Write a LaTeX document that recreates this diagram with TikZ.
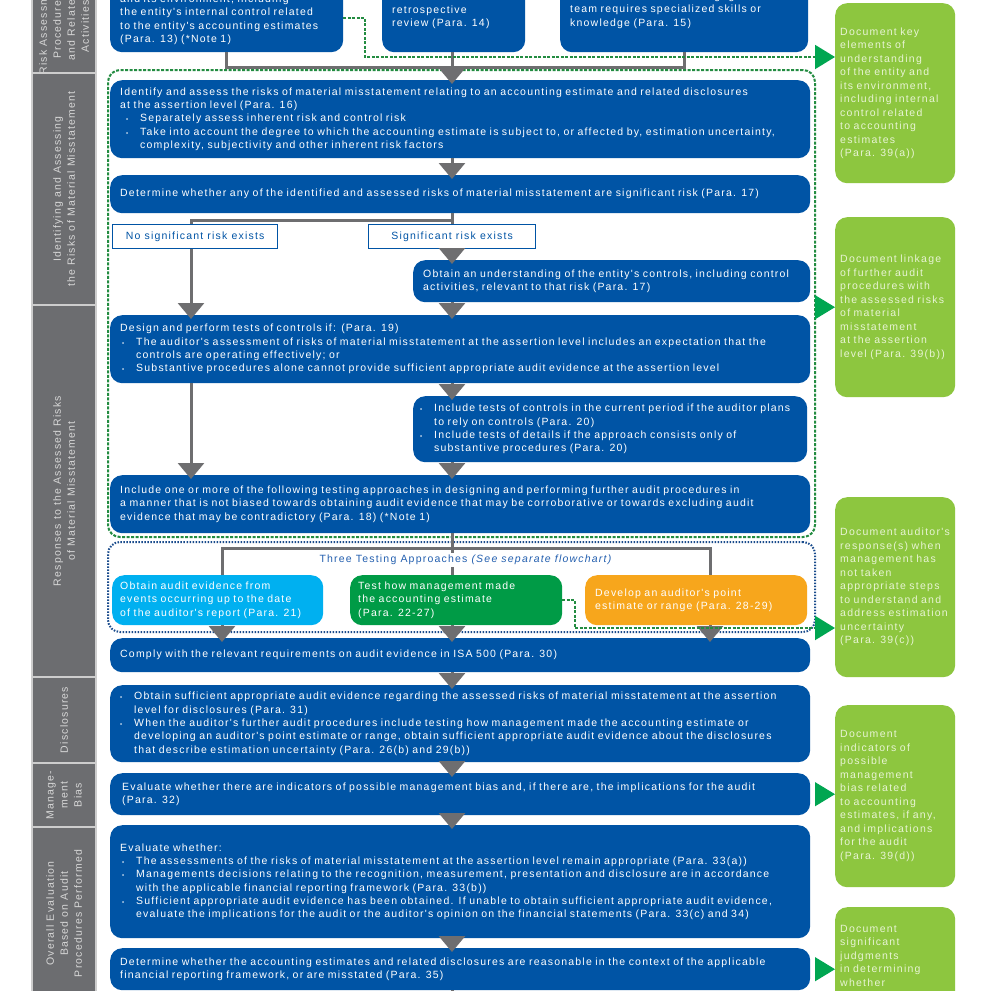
\documentclass[tikz,border=0pt]{standalone}
\usepackage{fontspec}
\setmainfont{Liberation Sans}
\newfontfamily\boxfamily{Liberation Sans}[LetterSpace=11.5]
\newfontfamily\docfamily{Liberation Sans}[LetterSpace=12]
\usetikzlibrary{arrows.meta,positioning,fit}

\newcommand{\boxfont}{\boxfamily\fontsize{10.5}{13.3}\selectfont}
\newcommand{\barfont}{\boxfamily\fontsize{10.5}{14}\selectfont}
\newcommand{\docfont}{\docfamily\fontsize{10.5}{13.5}\selectfont}
\newcommand{\smallbul}{{\fontsize{6}{6}\selectfont\textbullet}}
\newcommand{\bitem}[1][0pt]{\hspace*{#1}\makebox[14pt][l]{\smallbul}}
\newcommand{\bcont}[1][0pt]{\hspace*{#1}\hspace*{14pt}}

\begin{document}
\begin{tikzpicture}[x=1pt,y=-1pt,
  bluebox/.style={rectangle,rounded corners=12pt,fill=boxblue,text=white,align=left,anchor=north west,inner xsep=10pt,inner ysep=2pt,font=\boxfont},
  tagbox/.style={rectangle,draw=boxblue,line width=1.2pt,fill=white,text=boxblue,anchor=north west,minimum height=24pt,inner sep=0pt,font=\boxfont},
  approach/.style={rectangle,rounded corners=12pt,text=white,align=left,anchor=north west,inner xsep=8pt,inner ysep=2pt,minimum height=50pt,font=\boxfont},
  docbox/.style={rectangle,rounded corners=12pt,fill=limebox,text=limetext,align=left,anchor=north west,inner xsep=5pt,inner ysep=2pt,text width=110pt,font=\docfont},
  sidebar/.style={rectangle,fill=bargray,draw=bargap,line width=1.5pt,text=bartext,align=center,rotate=90,minimum height=64pt,inner sep=0pt,font=\barfont},
  groupframe/.style={rectangle,rounded corners=12pt,line width=2pt,inner sep=0pt},
  flow/.style={draw=linegray,line width=3pt},
  flowarrow/.style={flow,-{Triangle[width=26pt,length=16pt]},shorten >=-4pt},
  docline/.style={draw=dashgreen,line width=2pt,dash pattern=on 3pt off 1.5pt},
  doctip/.style={-{Triangle[width=24pt,length=20pt,color=arrowgreen]}}
]
% Define colours
\definecolor{boxblue}{RGB}{0,84,165}
\definecolor{bargray}{RGB}{108,109,112}
\definecolor{bargap}{RGB}{205,205,205}
\definecolor{bartext}{RGB}{215,215,215}
\definecolor{linegray}{RGB}{110,110,112}
\definecolor{limebox}{RGB}{141,198,63}
\definecolor{limetext}{RGB}{232,244,212}
\definecolor{arrowgreen}{RGB}{0,166,81}
\definecolor{dashgreen}{RGB}{35,140,65}
\definecolor{dotblue}{RGB}{25,75,140}
\definecolor{apcyan}{RGB}{0,176,240}
\definecolor{apgreen}{RGB}{0,155,70}
\definecolor{aporange}{RGB}{247,166,28}
\definecolor{labelblue}{RGB}{35,95,175}

\useasboundingbox (0,0) rectangle (991,991);
\fill[white] (0,0) rectangle (991,991);
\clip (0,0) rectangle (991,991);

% Column positions of the connectors
\coordinate (colA) at (222,0);
\coordinate (colL) at (191,0);
\coordinate (colB) at (452,0);
\coordinate (colC) at (710,0);
\coordinate (topbus) at (0,67);
\coordinate (decbus) at (452,220);
\coordinate (apbus) at (452,548);
\coordinate (keybus) at (365,57);
\coordinate (resbus) at (575,628);

% Side bars
\node[sidebar,minimum width=93pt] (barrisk) at (64,26.5) {Risk Assessment\\Procedures\\and Related\\Activities};
\node[sidebar,minimum width=232pt] (barident) at (64,189) {Identifying and Assessing\\the Risks of Material Misstatement};
\node[sidebar,minimum width=372pt] (barresp) at (64,491) {Responses to the Assessed Risks\\of Material Misstatement};
\node[sidebar,minimum width=86pt] (bardisc) at (64,720) {Disclosures};
\node[sidebar,minimum width=64pt] (barbias) at (64,795) {Manage-\\ment\\Bias};
\node[sidebar,minimum width=173pt] (barover) at (64,913.5) {Overall Evaluation\\Based on Audit\\Procedures Performed};

% Dashed group frames
\node[groupframe,draw=dashgreen,dash pattern=on 3pt off 1.5pt,fit={(108,70) (815,537)}] (riskframe) {};
\node[groupframe,draw=dotblue,dash pattern=on 1.5pt off 1.5pt,fit={(108,542) (815,632)}] (apframe) {};

% Risk assessment boxes
\node[bluebox,text width=213pt,minimum height=65pt] (riskenv) at (110,-13) {and its environment, including\\the entity's internal control related\\to the entity's accounting estimates\\(Para. 13) (*Note 1)};
\node[bluebox,text width=123pt,minimum height=70pt] (riskretro) at (382,-18) {retrospective\\review (Para. 14)};
\node[bluebox,text width=228pt,minimum height=84pt] (riskskill) at (560,-32) {Determine whether the engagement\\team requires specialized skills or\\knowledge (Para. 15)};

% Identifying and assessing
\node[bluebox,text width=680pt,minimum height=78pt] (ident) at (110,80) {Identify and assess the risks of material misstatement relating to an accounting estimate and related disclosures\\at the assertion level (Para. 16)\\\bitem[6pt]Separately assess inherent risk and control risk\\\bitem[6pt]Take into account the degree to which the accounting estimate is subject to, or affected by,  estimation uncertainty,\\\bcont[6pt]complexity, subjectivity and other inherent risk factors};
\node[bluebox,text width=680pt,minimum height=38pt] (determ) at (110,175) {Determine whether any of the identified and assessed risks of material misstatement are significant risk (Para. 17)};
\node[tagbox,minimum width=165pt] (nosig) at (112,224) {No significant risk exists};
\node[tagbox,minimum width=167pt] (sig) at (368,224) {Significant risk exists};
\node[bluebox,text width=377pt,minimum height=42pt] (obtain) at (413,260) {Obtain an understanding of the entity's controls, including control\\activities, relevant to that risk (Para. 17)};

% Responses
\node[bluebox,text width=680pt,minimum height=68pt] (design) at (110,315) {Design and perform tests of controls if: (Para. 19)\\\bitem[2pt]The auditor's assessment of risks of material misstatement at the assertion level includes an expectation that the\\\bcont[2pt]controls are operating effectively; or\\\bitem[2pt]Substantive procedures alone cannot provide sufficient appropriate audit evidence at the assertion level};
\node[bluebox,text width=380pt,minimum height=66pt,inner xsep=7pt] (inctests) at (413,396) {\bitem Include tests of controls in the current period if the auditor plans\\\bcont to rely on controls (Para. 20)\\\bitem Include tests of details if the approach consists only of\\\bcont substantive procedures (Para. 20)};
\node[bluebox,text width=680pt,minimum height=58pt] (incone) at (110,475) {Include one or more of the following testing approaches in designing and performing further audit procedures in\\a manner that is not biased towards obtaining audit evidence that may be corroborative or towards excluding audit\\evidence that may be contradictory (Para. 18) (*Note 1)};

% Three testing approaches
\node[approach,fill=apcyan,text width=195pt] (apcyanbox) at (112,575) {Obtain audit evidence from\\events occurring up to the date\\of the auditor's report (Para. 21)};
\node[approach,fill=apgreen,text width=196pt] (apgreenbox) at (350,575) {Test how management made\\the accounting estimate\\(Para. 22-27)};
\node[approach,fill=aporange,text width=202pt,inner xsep=10pt] (aporangebox) at (585,575) {Develop an auditor's point\\estimate or range (Para. 28-29)};
\node[bluebox,text width=680pt,minimum height=34pt] (comply) at (110,638) {Comply with the relevant requirements on audit evidence in ISA 500 (Para. 30)};

% Disclosures, bias and overall evaluation
\node[bluebox,text width=680pt,minimum height=77pt] (discl) at (110,685) {\bitem Obtain sufficient appropriate audit evidence regarding the assessed risks of material misstatement at the assertion\\\bcont level for disclosures (Para. 31)\\\bitem When the auditor's further audit procedures include testing how management made the accounting estimate or\\\bcont developing an auditor's point estimate or range, obtain sufficient appropriate audit evidence about the disclosures\\\bcont that describe estimation uncertainty (Para. 26(b) and 29(b))};
\node[bluebox,text width=676pt,minimum height=42pt,inner xsep=12pt] (bias) at (110,773) {Evaluate whether there are indicators of possible management bias and, if there are, the implications for the audit\\(Para. 32)};
\node[bluebox,text width=680pt,minimum height=113pt] (evaluate) at (110,825) {Evaluate whether:\\\bitem[2pt]The assessments of the risks of material misstatement at the assertion level remain appropriate (Para. 33(a))\\\bitem[2pt]Managements decisions relating to the recognition, measurement, presentation and disclosure are in accordance\\\bcont[2pt]with the applicable financial reporting framework (Para. 33(b))\\\bitem[2pt]Sufficient appropriate audit evidence has been obtained. If unable to obtain sufficient appropriate audit evidence,\\\bcont[2pt]evaluate the implications for the audit or the auditor's opinion on the financial statements (Para. 33(c) and 34)};
\node[bluebox,text width=680pt,minimum height=42pt] (reason) at (110,948) {Determine whether the accounting estimates and related disclosures are reasonable in the context of the applicable\\financial reporting framework, or are misstated (Para. 35)};

% Documentation boxes
\node[docbox,minimum height=180pt] (dockey) at (835,3) {Document key\\elements of\\understanding\\of the entity and\\its environment,\\including internal\\control related\\to accounting\\estimates\\(Para. 39(a))};
\node[docbox,minimum height=180pt] (doclink) at (835,217) {Document linkage\\of further audit\\procedures with\\the assessed risks\\of material\\misstatement\\at the assertion\\level (Para. 39(b))};
\node[docbox,minimum height=180pt] (docresp) at (835,497) {Document auditor's\\response(s) when\\management has\\not taken\\appropriate steps\\to understand and\\address estimation\\uncertainty\\(Para. 39(c))};
\node[docbox,minimum height=182pt] (docbias) at (835,705) {Document\\indicators of\\possible\\management\\bias related\\to accounting\\estimates, if any,\\and implications\\for the audit\\(Para. 39(d))};
\node[docbox,inner ysep=18pt] (docjudge) at (835,907) {Document\\significant\\judgments\\in determining\\whether\\};

% Gray connectors
\draw[flow] (riskenv.south) -- (riskenv.south |- topbus) -- (riskskill.south |- topbus) -- (riskskill.south);
\draw[flowarrow] (riskretro.south -| colB) -- (ident.north -| colB);
\draw[flowarrow] (ident.south -| colB) -- (determ.north -| colB);
\draw[flow] (determ.south -| colB) -- (sig.north -| colB);
\draw[flow] (decbus) -| (nosig.north -| colL);
\draw[flowarrow] (sig.south -| colB) -- (obtain.north -| colB);
\draw[flowarrow] (nosig.south -| colL) -- (design.north -| colL);
\draw[flowarrow] (obtain.south -| colB) -- (design.north -| colB);
\draw[flowarrow] (design.south -| colB) -- (inctests.north -| colB);
\draw[flowarrow] (design.south -| colL) -- (incone.north -| colL);
\draw[flowarrow] (inctests.south -| colB) -- (incone.north -| colB);
\draw[flow] (incone.south -| colB) -- (apgreenbox.north -| colB);
\draw[flow] (apcyanbox.north -| colA) |- (apbus) -| (aporangebox.north -| colC);
\draw[flowarrow] (apcyanbox.south -| colA) -- (comply.north -| colA);
\draw[flowarrow] (apgreenbox.south -| colB) -- (comply.north -| colB);
\draw[flowarrow] (aporangebox.south -| colC) -- (comply.north -| colC);
\draw[flowarrow] (comply.south -| colB) -- (discl.north -| colB);
\draw[flowarrow] (discl.south -| colB) -- (bias.north -| colB);
\draw[flowarrow] (bias.south -| colB) -- (evaluate.north -| colB);
\draw[flowarrow] (evaluate.south -| colB) -- (reason.north -| colB);
\draw[flowarrow] (reason.south -| colB) -- ++(0,20);

% Label of the testing approaches
\node[fill=white,text=labelblue,inner sep=2pt,font=\boxfont] (aplabel) at (466,560) {Three Testing Approaches \textit{(See separate flowchart)}};

% Green documentation links
\draw[docline,doctip] ([yshift=-31pt]riskenv.north east) -| (keybus) -- (dockey.west |- keybus);
\draw[docline,doctip] (apgreenbox.east) -| (resbus) -- (docresp.west |- resbus);
\draw[draw=arrowgreen,line width=1pt,doctip] (riskframe.east |- doclink.west) -- (doclink.west);
\draw[draw=arrowgreen,line width=1pt,doctip] ([xshift=5pt]bias.east) -- (docbias.west |- bias.east);
\draw[draw=arrowgreen,line width=1pt,doctip] ([xshift=5pt]reason.east) -- (docjudge.west |- reason.east);
\end{tikzpicture}
\end{document}
